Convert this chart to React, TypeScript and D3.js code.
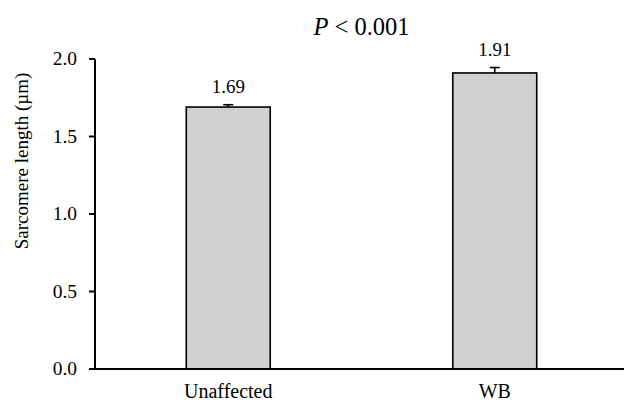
import React from 'react';
import * as d3 from 'd3';

const categories = ['Unaffected', 'WB'];
const means = [1.69, 1.91];
const errors = [0.015, 0.035];
const yTicks = [0, 0.5, 1.0, 1.5, 2.0];
const title = '< 0.001';

const W = 624;
const H = 402;
const margin = { top: 59, right: -4, bottom: 33, left: 95 };
const font = "'Times New Roman', 'Liberation Serif', 'DejaVu Serif', 'Noto Serif', Times, serif";

export default function App() {
  const x = d3.scaleBand<string>()
    .domain(categories)
    .range([margin.left, W - margin.right])
    .paddingInner(0.685)
    .paddingOuter(0.3425);

  const y = d3.scaleLinear()
    .domain([0, 2])
    .range([H - margin.bottom, margin.top]);

  const bw = x.bandwidth();
  const capW = 10;
  const txt = { fontFamily: font };

  return (
    <svg width={W} height={H} style={{ position: 'absolute', left: 0, top: 0, background: '#fff' }}>
      <g fill="#000">
        <text x={(margin.left + W - margin.right) / 2} y={35} fontSize={24.5} textAnchor="middle" style={txt}>
          <tspan fontStyle="italic">P</tspan> {title}
        </text>

        {/* bars */}
        {categories.map((c, i) => {
          const cx = x(c)! + bw / 2;
          return (
            <g key={c}>
              <rect
                x={x(c)}
                y={y(means[i])}
                width={bw}
                height={y(0) - y(means[i])}
                fill="#d0d0d0"
                stroke="#000"
                strokeWidth={1.6}
              />
              <line x1={cx} x2={cx} y1={y(means[i])} y2={y(means[i] + errors[i])} stroke="#000" strokeWidth={1.6} />
              <line x1={cx - capW / 2} x2={cx + capW / 2} y1={y(means[i] + errors[i])} y2={y(means[i] + errors[i])} stroke="#000" strokeWidth={1.6} />
              <text x={cx} y={y(means[i] + errors[i]) - 12} fontSize={19} textAnchor="middle" style={txt}>
                {means[i].toFixed(2)}
              </text>
              <text x={cx} y={398} fontSize={20} textAnchor="middle" style={txt}>{c}</text>
            </g>
          );
        })}

        {/* y axis */}
        <line x1={margin.left} x2={margin.left} y1={y(2)} y2={y(0)} stroke="#000" strokeWidth={2} />
        {yTicks.map((t) => (
          <g key={t}>
            <line x1={margin.left - 6} x2={margin.left} y1={y(t)} y2={y(t)} stroke="#000" strokeWidth={2} />
            <text x={77} y={y(t) + 6} fontSize={19.5} textAnchor="end" style={txt}>{t.toFixed(1)}</text>
          </g>
        ))}
        <line x1={margin.left} x2={W} y1={y(0)} y2={y(0)} stroke="#000" strokeWidth={2.2} />

        <text
          transform={`translate(28, 161) rotate(-90)`}
          fontSize={19}
          textAnchor="middle"
          style={txt}
        >
          Sarcomere length (µm)
        </text>
      </g>
    </svg>
  );
}
